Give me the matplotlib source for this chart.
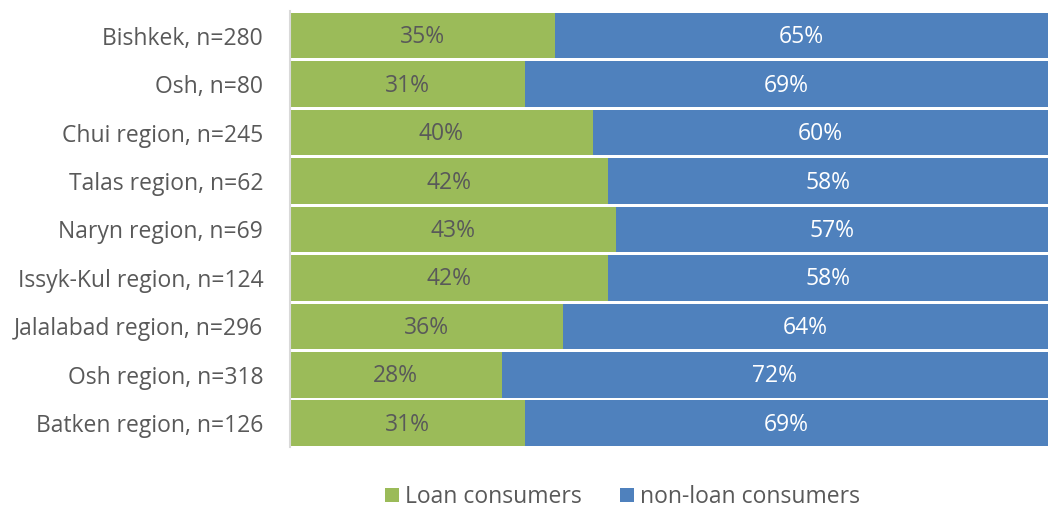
import matplotlib.pyplot as plt
import numpy as np

regions = ["Bishkek, n=280", "Osh, n=80", "Chui region, n=245", "Talas region, n=62",
           "Naryn region, n=69", "Issyk-Kul region, n=124", "Jalalabad region, n=296",
           "Osh region, n=318", "Batken region, n=126"]
loan = [35, 31, 40, 42, 43, 42, 36, 28, 31]
non_loan = [65, 69, 60, 58, 57, 58, 64, 72, 69]

green = "#9BBB59"
blue = "#4F81BD"
grey = "#595959"

plt.rcParams['font.family'] = ['Open Sans', 'DejaVu Sans']

fig = plt.figure(figsize=(10.48, 5.11), dpi=100)
ax = fig.add_axes([0.2763, 0.1243, 0.7237, 0.8532])

y = np.arange(len(regions))
b1 = ax.barh(y, loan, height=0.94, color=green, label="Loan consumers")
b2 = ax.barh(y, non_loan, left=loan, height=0.94, color=blue, label="non-loan consumers")

# percentage labels centred in each segment
for i in range(len(regions)):
    ax.text(loan[i] / 2, y[i] + 0.03, f"{loan[i]}%", ha="center", va="center",
            fontsize=16.5, color=grey)
    ax.text(loan[i] + non_loan[i] / 2, y[i] + 0.03, f"{non_loan[i]}%", ha="center",
            va="center", fontsize=16.5, color="white")

ax.set_xlim(0, 100)
ax.set_ylim(len(regions) - 0.5, -0.5)
ax.set_yticks(y)
ax.set_yticklabels(regions, fontsize=16.5, color=grey)
ax.tick_params(axis="y", length=0, pad=19)
ax.set_xticks([])
for s in ["top", "right", "bottom"]:
    ax.spines[s].set_visible(False)
ax.spines["left"].set_color("#D9D9D9")
ax.spines["left"].set_linewidth(1.5)

fig.legend(handles=[b1, b2], loc="center", bbox_to_anchor=(0.594, 0.027), ncol=2,
           frameon=False, fontsize=16.5, labelcolor=grey, handlelength=0.6,
           handleheight=0.6, handletextpad=0.25, columnspacing=1.7)

fig.savefig("out.png", dpi=100)
